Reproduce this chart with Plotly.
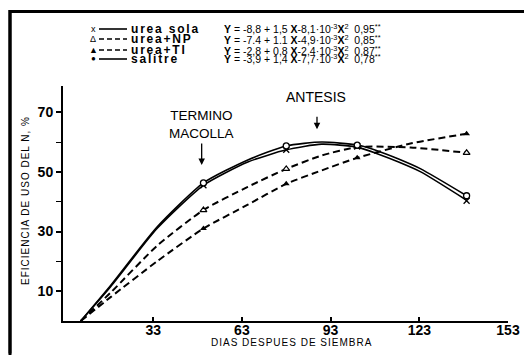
import plotly.graph_objects as go

# ---------------- data ----------------
series_names = ["urea sola", "urea+NP", "urea+TI", "salitre"]

# smooth fitted curves (days, efficiency %)
curve_x_sola = [8.5, 18.6, 34.3, 50, 65, 78, 90, 102, 109, 116, 123.5, 139]
curve_y_sola = [0, 11.5, 31, 45.5, 53.3, 57.4, 59.3, 58.3, 56, 53.3, 50, 40.5]
curve_x_sal = [8.5, 18.6, 34.3, 50, 65, 78, 90, 102, 109, 116, 123.5, 139]
curve_y_sal = [0, 11.9, 31.5, 46.3, 54, 58.7, 60, 59, 57, 54.3, 51, 42]
curve_x_np = [8.5, 18.6, 34.3, 50, 65, 78, 90, 102, 120, 139]
curve_y_np = [0, 9.5, 25.2, 37.2, 45, 51, 55.5, 58.3, 58.2, 56.4]
curve_x_ti = [8.5, 18.6, 34.3, 50, 65, 78, 90, 102, 120, 139]
curve_y_ti = [0, 8, 20, 31, 39, 46, 50.5, 54.7, 59.5, 62.8]

# observed points
obs_days = [50, 78, 102, 139]
obs_sola = [45.5, 57.4, 58.5, 40.3]
obs_np = [37.2, 51, 58.5, 56.4]
obs_ti = [31, 46, 54.7, 62.8]
obs_sal = [46.3, 58.7, 59, 42]

x_ticks = [33, 63, 93, 123, 153]
y_ticks = [10, 30, 50, 70]
y_minor = [20, 40, 60]

equations = [
    "<b>Y</b> = -8,8 + 1,5 <b>X</b>-8,1·10<sup>-3</sup><b>X</b><sup>2</sup>  0,95<sup>**</sup>",
    "<b>Y</b> = -7.4 + 1.1 <b>X</b>-4,9·10<sup>-3</sup><b>X</b><sup>2</sup>  0,85<sup>**</sup>",
    "<b>Y</b> = -2,8 + 0,8 <b>X</b>-2,4·10<sup>-3</sup><b>X</b><sup>2</sup>  0,87<sup>**</sup>",
    "<b>Y</b> = -3,9 + 1,4 <b>X</b>-7,7·10<sup>-3</sup><b>X</b><sup>2</sup>  0,78<sup>**</sup>",
]
legend_symbols = ["x", "Δ", "▲", "●"]
legend_dash = ["solid", "dash", "dash", "solid"]

# ---------------- figure ----------------
W, H = 532, 356
OFF = 8  # page body margin offsets the figure in the screenshot
L, R, T, B = 63 - OFF, 24 + OFF, 86 - OFF, 35 + OFF
PW, PH = W - L - R, H - T - B


def px(x):
    return (x - OFF - L) / PW


def py(y):
    return (H - B - (y - OFF)) / PH


fig = go.Figure()
DASH = "7px,4px"

for cx, cy, dash, w in [
    (curve_x_np, curve_y_np, DASH, 2),
    (curve_x_ti, curve_y_ti, DASH, 2),
    (curve_x_sola, curve_y_sola, "solid", 1.6),
    (curve_x_sal, curve_y_sal, "solid", 1.6),
]:
    fig.add_trace(go.Scatter(x=cx, y=cy, mode="lines",
                             line=dict(color="black", width=w, dash=dash,
                                       shape="spline", smoothing=0.6),
                             showlegend=False, hoverinfo="skip"))

fig.add_trace(go.Scatter(x=obs_days, y=obs_sola, mode="markers", name=series_names[0],
                         marker=dict(symbol="x-thin", size=6, line=dict(color="black", width=1.3)),
                         showlegend=False))
fig.add_trace(go.Scatter(x=obs_days, y=obs_np, mode="markers", name=series_names[1],
                         marker=dict(symbol="triangle-up", size=6, color="white",
                                     line=dict(color="black", width=1.2)),
                         showlegend=False))
fig.add_trace(go.Scatter(x=obs_days, y=obs_ti, mode="markers", name=series_names[2],
                         marker=dict(symbol="triangle-up", size=6, color="black"),
                         showlegend=False))
fig.add_trace(go.Scatter(x=obs_days, y=obs_sal, mode="markers", name=series_names[3],
                         marker=dict(symbol="circle", size=6, color="white",
                                     line=dict(color="black", width=1.3)),
                         showlegend=False))

FONT = "Liberation Sans, Arial, sans-serif"
NARROW = "Liberation Sans Narrow, Liberation Sans, Arial, sans-serif"

fig.update_xaxes(range=[2.5, 153], tickvals=x_ticks,
                 ticktext=[f"<b>{v}</b>" for v in x_ticks],
                 ticks="inside", ticklen=4, tickwidth=1.5, tickcolor="black",
                 ticklabelstandoff=-5,
                 showline=True, linecolor="black", linewidth=2, showgrid=False,
                 zeroline=False, tickfont=dict(family=FONT, size=14, color="black"))
fig.update_yaxes(range=[0, 78.8], tickvals=y_ticks,
                 ticktext=[f"<b>{v}</b>" for v in y_ticks],
                 ticks="outside", ticklen=5, tickwidth=1.5, tickcolor="black",
                 minor=dict(tickvals=y_minor, ticks="outside", ticklen=5,
                            tickwidth=1.2, tickcolor="black"),
                 showline=True, linecolor="black", linewidth=2, showgrid=False,
                 zeroline=False, tickfont=dict(family=FONT, size=14, color="black"))

# page frame (top and left edges), drawn as segments that each touch the plot span
shapes = [
    dict(type="line", xref="paper", yref="paper", x0=px(9), x1=px(280),
         y0=py(11.5), y1=py(11.5), line=dict(color="black", width=3)),
    dict(type="line", xref="paper", yref="paper", x0=px(280), x1=px(531),
         y0=py(11.5), y1=py(11.5), line=dict(color="black", width=3)),
    dict(type="line", xref="paper", yref="paper", x0=px(10), x1=px(10),
         y0=py(10), y1=py(200), line=dict(color="black", width=3)),
    dict(type="line", xref="paper", yref="paper", x0=px(10), x1=px(10),
         y0=py(200), y1=py(355), line=dict(color="black", width=3)),
]
annotations = [
    # same frame edges as plain arrow-lines (no heads)
    dict(xref="paper", yref="paper", x=px(9), y=py(11.5), ax=522, ay=0, text="",
         showarrow=True, arrowhead=0, arrowwidth=3, arrowcolor="black", standoff=0),
    dict(xref="paper", yref="paper", x=px(10), y=py(10), ax=0, ay=345, text="",
         showarrow=True, arrowhead=0, arrowwidth=3, arrowcolor="black", standoff=0),
]
rows = [29, 39, 50, 59]
for i, yy in enumerate(rows):
    annotations.append(dict(xref="paper", yref="paper", x=px(93), y=py(yy),
                            xanchor="center", yanchor="middle",
                            text=legend_symbols[i], showarrow=False,
                            font=dict(family=FONT, size=9 if i != 3 else 8, color="black")))
    shapes.append(dict(type="line", xref="paper", yref="paper", x0=px(99), x1=px(127),
                       y0=py(yy), y1=py(yy),
                       line=dict(color="black", width=1.6,
                                 dash="solid" if legend_dash[i] == "solid" else "5px,3px")))
    annotations.append(dict(xref="paper", yref="paper", x=px(129), y=py(yy),
                            xanchor="left", yanchor="middle",
                            text=f"<span style='letter-spacing:1.8px'><b>{series_names[i]}</b></span>",
                            showarrow=False,
                            font=dict(family=FONT, size=12, color="black")))
    annotations.append(dict(xref="paper", yref="paper", x=px(222), y=py(yy),
                            xanchor="left", yanchor="middle",
                            text=equations[i], showarrow=False,
                            font=dict(family=NARROW, size=10.5, color="black")))

# stage labels
annotations += [
    dict(x=49.2, y=66, text="TERMINO<br>MACOLLA", showarrow=False,
         font=dict(family=FONT, size=13.5, color="black")),
    dict(x=49.4, y=52.3, ax=0, ay=-23, text="", showarrow=True, arrowhead=2,
         arrowsize=1, arrowwidth=1.3, arrowcolor="black"),
    dict(x=88.2, y=75, text="ANTESIS", showarrow=False,
         font=dict(family=FONT, size=14, color="black")),
    dict(x=88.4, y=64.3, ax=0, ay=-14, text="", showarrow=True, arrowhead=2,
         arrowsize=1, arrowwidth=1.3, arrowcolor="black"),
    dict(xref="paper", yref="paper", x=px(291), y=py(342), xanchor="center", yanchor="middle",
         text="<span style='letter-spacing:1px'>DIAS DESPUES DE SIEMBRA</span>",
         showarrow=False, font=dict(family=FONT, size=10, color="black")),
    dict(xref="paper", yref="paper", x=px(25), y=py(201), xanchor="center", yanchor="middle",
         text="<span style='letter-spacing:1px'>EFICIENCIA DE USO DEL N, %</span>",
         showarrow=False, textangle=-90, font=dict(family=FONT, size=10, color="black")),
]

fig.update_layout(width=W, height=H,
                  margin=dict(l=L, r=R, t=T, b=B, autoexpand=False),
                  paper_bgcolor="white", plot_bgcolor="white",
                  shapes=shapes, annotations=annotations)

fig.write_html("out.html")
